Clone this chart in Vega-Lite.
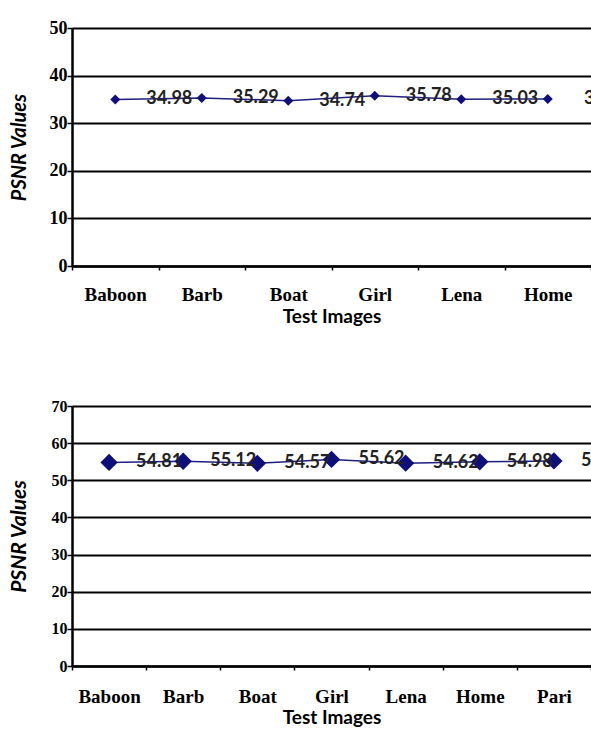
{
  "$schema": "https://vega.github.io/schema/vega-lite/v6.json",
  "padding": {"left": 8, "top": 19, "right": 0, "bottom": 0},
  "background": "white",
  "spacing": 72,
  "datasets": {
    "top": [
      {"image": "Baboon", "psnr": 34.98, "label": "34.98"},
      {"image": "Barb", "psnr": 35.29, "label": "35.29"},
      {"image": "Boat", "psnr": 34.74, "label": "34.74"},
      {"image": "Girl", "psnr": 35.78, "label": "35.78"},
      {"image": "Lena", "psnr": 35.03, "label": "35.03"},
      {"image": "Home", "psnr": 35.1, "label": "35.1"}
    ],
    "bottom": [
      {"image": "Baboon", "psnr": 54.81, "label": "54.81"},
      {"image": "Barb", "psnr": 55.12, "label": "55.12"},
      {"image": "Boat", "psnr": 54.57, "label": "54.57"},
      {"image": "Girl", "psnr": 55.62, "label": "55.62"},
      {"image": "Lena", "psnr": 54.62, "label": "54.62"},
      {"image": "Home", "psnr": 54.98, "label": "54.98"},
      {"image": "Pari", "psnr": 55.22, "label": "55.22"}
    ]
  },
  "config": {
    "view": {"stroke": null},
    "axis": {
      "domainColor": "black",
      "domainWidth": 2.5,
      "tickColor": "black",
      "tickWidth": 1.5,
      "gridColor": "black",
      "gridWidth": 2,
      "gridOpacity": 1,
      "labelColor": "black",
      "titleColor": "black"
    }
  },
  "vconcat": [
    {
      "width": 519,
      "height": 238,
      "data": {"name": "top"},
      "encoding": {
        "x": {
          "field": "image", "type": "nominal", "sort": null,
          "scale": {"paddingInner": 0, "paddingOuter": 0},
          "axis": {
            "title": "Test Images", "labelAngle": 0, "tickBand": "extent",
            "labelFont": "Liberation Serif", "labelFontWeight": "bold", "labelFontSize": 19,
            "labelPadding": 15, "tickSize": 4, "grid": false,
            "titleFont": "Lato", "titleFontWeight": "bold", "titleFontSize": 19, "titlePadding": 3
          }
        },
        "y": {
          "field": "psnr", "type": "quantitative",
          "scale": {"domain": [0, 50], "nice": false},
          "axis": {
            "title": "PSNR Values", "values": [0, 10, 20, 30, 40, 50],
            "labelFont": "Liberation Serif", "labelFontWeight": "bold", "labelFontSize": 18,
            "labelPadding": 0, "tickSize": 5,
            "titleFont": "Lato", "titleFontWeight": "bold", "titleFontStyle": "italic", "titleFontSize": 20, "titlePadding": 20
          }
        }
      },
      "layer": [
        {"mark": {"type": "line", "color": "#1f1f80", "strokeWidth": 1.5}},
        {"mark": {"type": "point", "shape": "diamond", "filled": true, "color": "#0f0f7a", "size": 100, "opacity": 1}},
        {"mark": {"type": "text", "dx": 54, "font": "Lato", "fontWeight": "bold", "fontSize": 18, "color": "#222222"},
         "encoding": {"text": {"field": "label"}}}
      ]
    },
    {
      "width": 519,
      "height": 260,
      "data": {"name": "bottom"},
      "encoding": {
        "x": {
          "field": "image", "type": "nominal", "sort": null,
          "scale": {"paddingInner": 0, "paddingOuter": 0},
          "axis": {
            "title": "Test Images", "labelAngle": 0, "tickBand": "extent",
            "labelFont": "Liberation Serif", "labelFontWeight": "bold", "labelFontSize": 19,
            "labelPadding": 17, "tickSize": 4, "grid": false,
            "titleFont": "Lato", "titleFontWeight": "bold", "titleFontSize": 19, "titlePadding": 2
          }
        },
        "y": {
          "field": "psnr", "type": "quantitative",
          "scale": {"domain": [0, 70], "nice": false},
          "axis": {
            "title": "PSNR Values", "values": [0, 10, 20, 30, 40, 50, 60, 70],
            "labelFont": "Liberation Serif", "labelFontWeight": "bold", "labelFontSize": 16,
            "labelPadding": 0, "tickSize": 5,
            "titleFont": "Lato", "titleFontWeight": "bold", "titleFontStyle": "italic", "titleFontSize": 21, "titlePadding": 22
          }
        }
      },
      "layer": [
        {"mark": {"type": "line", "color": "#1f1f80", "strokeWidth": 1.5}},
        {"mark": {"type": "point", "shape": "diamond", "filled": true, "color": "#0f0f7a", "size": 300, "opacity": 1}},
        {"mark": {"type": "text", "dx": 50, "font": "Lato", "fontWeight": "bold", "fontSize": 18, "color": "#222222"},
         "encoding": {"text": {"field": "label"}}}
      ]
    }
  ]
}
